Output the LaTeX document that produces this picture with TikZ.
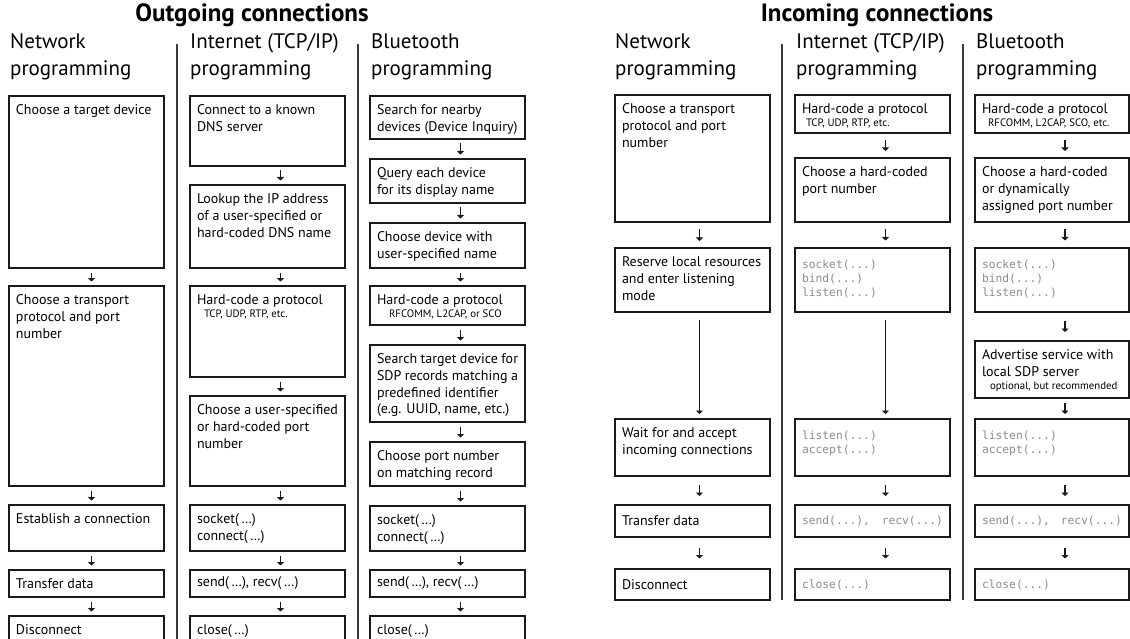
\documentclass[tikz,border=0pt]{standalone}
\usepackage{fontspec}
\setmainfont{PT Sans}
\newfontfamily\codefamily{DejaVu Sans Mono}
\usetikzlibrary{arrows.meta}

\definecolor{ink}{HTML}{1A1A1A}
\definecolor{codegray}{HTML}{8C8C8C}
\definecolor{rulegray}{HTML}{3A3A3A}

\newlength\bxpad \setlength\bxpad{8.5pt}
\newcommand\boxfont{\fontsize{14}{16.8}\selectfont}
\newcommand\subfont{\fontsize{10.8}{12}\selectfont}
\newcommand\codetext{\codefamily\fontsize{11.3}{14}\selectfont\color{codegray}}

\tikzset{
  box/.style={draw=ink, line width=1.6pt, anchor=north west, inner xsep=7pt,
    inner ysep=\bxpad, outer sep=0pt, font=\boxfont},
  titletext/.style={anchor=base, inner sep=0pt, font=\bfseries\fontsize{25}{29}\selectfont},
  hdr/.style={anchor=base west, inner sep=0pt, font=\fontsize{21}{24}\selectfont},
  flow/.style={draw=ink, line width=1.3pt, -{Triangle[length=3.5pt,width=7pt]}},
  divider/.style={draw=rulegray, line width=1.2pt},
}

% box: name, left x, right x, top y, bottom y, vertical text position, text
\newcommand\bx[7]{%
  \pgfmathsetlengthmacro\bxw{(#3-#2)*1pt-14pt}%
  \pgfmathsetlengthmacro\bxh{(#5-#4)*1pt-2*\bxpad}%
  \node[box] (#1) at (#2,#4) {\parbox[t][\bxh][#6]{\bxw}{\raggedright #7}};%
}
% arrow between two stacked boxes: [shortening]{from}{to}{x offset}
\newcommand\arr[4][4.5pt]{%
  \draw[flow, shorten <=#1, shorten >=#1] ([xshift=#4]#2.south) -- ([xshift=#4]#3.north);%
}

\begin{document}
\begin{tikzpicture}[x=1pt, y=-1pt]
\clip (0,0) rectangle (1130,639);
\fill[white] (0,0) rectangle (1130,639);

% ---------------- outgoing connections ----------------
\node[titletext] (tout) at (252,22) {Outgoing connections};

\node[hdr] (hna) at (10,49) {Network};
\node[hdr] (hnb) at (10,76) {programming};
\node[hdr] (hia) at (190,49) {Internet (TCP/IP)};
\node[hdr] (hib) at (190,76) {programming};
\node[hdr] (hba) at (371,49) {Bluetooth};
\node[hdr] (hbb) at (371,76) {programming};

\draw[divider] (177,44) -- (177,639);
\draw[divider] (358,44) -- (358,639);

% generic network column
\bx{a1}{9}{164}{96}{268}{t}{Choose a target device}
\bx{a2}{9}{164}{286}{486}{t}{Choose a transport\\protocol and port\\number}
\bx{a3}{9}{164}{505}{551}{t}{Establish a connection}
\bx{a4}{9}{164}{570}{597}{c}{Transfer data}
\bx{a5}{9}{164}{616}{660}{t}{Disconnect}

% internet column
\bx{b1}{190}{345}{96}{166}{t}{Connect to a known\\DNS server}
\bx{b2}{190}{345}{185}{268}{t}{Lookup the IP address\\of a user-specified or\\hard-coded DNS name}
\bx{b3}{190}{345}{286}{377}{t}{Hard-code a protocol\\[-3.8pt]{\subfont\hspace*{7pt}TCP, UDP, RTP, etc.}}
\bx{b4}{190}{345}{396}{486}{t}{Choose a user-specified\\or hard-coded port\\number}
\bx{b5}{190}{345}{505}{551}{t}{socket(\,…)\\connect(\,…)}
\bx{b6}{190}{345}{570}{597}{c}{send(\,…), recv(\,…)}
\bx{b7}{190}{345}{616}{660}{t}{close(\,…)}

% bluetooth column
\bx{c1}{370}{525}{96}{139}{t}{Search for nearby\\devices (Device Inquiry)}
\bx{c2}{370}{525}{159}{203}{t}{Query each device\\for its display name}
\bx{c3}{370}{525}{223}{268}{t}{Choose device with\\user-specified name}
\bx{c4}{370}{525}{286}{325}{t}{Hard-code a protocol\\[-3.8pt]{\subfont\hspace*{12pt}RFCOMM, L2CAP, or SCO}}
\bx{c5}{370}{525}{345}{422}{t}{Search target device for\\SDP records matching a\\predefined identifier\\(e.g. UUID, name, etc.)}
\bx{c6}{370}{525}{442}{486}{t}{Choose port number\\on matching record}
\bx{c7}{370}{525}{506}{551}{t}{socket(\,…)\\connect(\,…)}
\bx{c8}{370}{525}{570}{597}{c}{send(\,…), recv(\,…)}
\bx{c9}{370}{525}{616}{660}{t}{close(\,…)}

\arr{a1}{a2}{5pt}
\arr{a2}{a3}{5pt}
\arr{a3}{a4}{5pt}
\arr{a4}{a5}{5pt}
\arr{b1}{b2}{13pt}
\arr{b2}{b3}{13pt}
\arr{b3}{b4}{13pt}
\arr{b4}{b5}{13pt}
\arr{b5}{b6}{13pt}
\arr{b6}{b7}{13pt}
\arr{c1}{c2}{13pt}
\arr{c2}{c3}{13pt}
\arr{c3}{c4}{13pt}
\arr{c4}{c5}{13pt}
\arr{c5}{c6}{13pt}
\arr{c6}{c7}{13pt}
\arr{c7}{c8}{13pt}
\arr{c8}{c9}{13pt}

% ---------------- incoming connections ----------------
\node[titletext] (tin) at (877,22) {Incoming connections};

\node[hdr] (rhna) at (615,49) {Network};
\node[hdr] (rhnb) at (615,76) {programming};
\node[hdr] (rhia) at (796,49) {Internet (TCP/IP)};
\node[hdr] (rhib) at (796,76) {programming};
\node[hdr] (rhba) at (976,49) {Bluetooth};
\node[hdr] (rhbb) at (976,76) {programming};

\draw[divider] (782,44) -- (782,600);
\draw[divider] (963,44) -- (963,600);

% generic network column
\bx{ra1}{615}{770}{95}{222}{t}{Choose a transport\\protocol and port\\number}
\bx{ra2}{615}{770}{248}{312}{t}{Reserve local resources\\and enter listening\\mode}
\bx{ra3}{615}{770}{419}{476}{t}{Wait for and accept\\incoming connections}
\bx{ra4}{615}{770}{505}{537}{c}{Transfer data}
\bx{ra5}{615}{770}{569}{600}{c}{Disconnect}

% internet column
\bx{rb1}{795}{950}{95}{133}{t}{Hard-code a protocol\\[-3.8pt]{\subfont\hspace*{4pt}TCP, UDP, RTP, etc.}}
\bx{rb2}{795}{950}{158}{222}{t}{Choose a hard-coded\\port number}
\bx{rb3}{795}{950}{248}{312}{t}{\codetext\vspace*{3.5pt}socket(...)\\bind(...)\\listen(...)}
\bx{rb4}{795}{950}{419}{476}{t}{\codetext\vspace*{3.5pt}listen(...)\\accept(...)}
\bx{rb5}{795}{950}{505}{537}{c}{\codetext send(...),~~recv(...)}
\bx{rb6}{795}{950}{569}{600}{c}{\codetext close(...)}

% bluetooth column
\bx{rc1}{975}{1129}{95}{133}{t}{Hard-code a protocol\\[-3.8pt]{\subfont\hspace*{6pt}RFCOMM, L2CAP, SCO, etc.}}
\bx{rc2}{975}{1129}{158}{222}{t}{Choose a hard-coded\\or dynamically\\assigned port number}
\bx{rc3}{975}{1129}{248}{312}{t}{\codetext\vspace*{3.5pt}socket(...)\\bind(...)\\listen(...)}
\bx{rc4}{975}{1129}{341}{398}{t}{Advertise service with\\local SDP server\\[-3.5pt]{\subfont\hspace*{8pt}optional, but recommended}}
\bx{rc5}{975}{1129}{419}{476}{t}{\codetext\vspace*{3.5pt}listen(...)\\accept(...)}
\bx{rc6}{975}{1129}{505}{537}{c}{\codetext send(...),~~recv(...)}
\bx{rc7}{975}{1129}{569}{600}{c}{\codetext close(...)}

\arr[7pt]{ra1}{ra2}{7pt}
\draw[flow, shorten <=8pt, shorten >=5pt] ([xshift=7pt]ra2.south) -- ([xshift=7pt]ra3.north);
\arr[9pt]{ra3}{ra4}{7pt}
\arr[10.5pt]{ra4}{ra5}{7pt}

\arr[7pt]{rb1}{rb2}{13pt}
\arr[7.5pt]{rb2}{rb3}{13pt}
\draw[flow, shorten <=8pt, shorten >=5pt] ([xshift=13pt]rb3.south) -- ([xshift=13pt]rb4.north);
\arr[9pt]{rb4}{rb5}{13pt}
\arr[10.5pt]{rb5}{rb6}{13pt}

\arr[7pt]{rc1}{rc2}{13pt}
\arr[7.5pt]{rc2}{rc3}{13pt}
\arr[9pt]{rc3}{rc4}{13pt}
\arr[5pt]{rc4}{rc5}{13pt}
\arr[9pt]{rc5}{rc6}{13pt}
\arr[10.5pt]{rc6}{rc7}{13pt}
\end{tikzpicture}
\end{document}
